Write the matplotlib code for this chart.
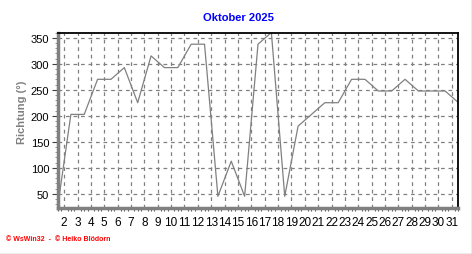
import matplotlib
matplotlib.use("Agg")
import matplotlib.pyplot as plt
from matplotlib.ticker import MultipleLocator, FixedLocator
from matplotlib.lines import Line2D

# daily wind direction, October 2025
days = list(range(1, 32))
richtung = [22.5, 202.5, 202.5, 270, 270, 292.5, 225, 315, 292.5, 292.5,
            337.5, 337.5, 45, 112.5, 45, 337.5, 360, 45, 180, 202.5,
            225, 225, 270, 270, 247.5, 247.5, 270, 247.5, 247.5, 247.5, 225]
tick_days = list(range(2, 32))
y_ticks = [50, 100, 150, 200, 250, 300, 350]

plt.rcParams['font.family'] = ['Liberation Sans', 'DejaVu Sans']

fig = plt.figure(figsize=(4.72, 2.55), dpi=100)
ax = fig.add_axes([57.5 / 472, 46 / 255, 401 / 472, 175.5 / 255])

# points sit at noon of each day
x = [d + 0.5 for d in days]
ax.plot(x, richtung, color='#808080', lw=0.9)

ax.set_xlim(1.5, 31.5)
ax.set_ylim(22.5, 360)

ax.xaxis.set_major_locator(FixedLocator(tick_days))
ax.set_xticklabels([str(d) for d in tick_days])
ax.xaxis.set_minor_locator(MultipleLocator(0.25))
ax.yaxis.set_major_locator(FixedLocator(y_ticks))
ax.yaxis.set_minor_locator(MultipleLocator(10))

ax.grid(True, which='major', color='#808080', ls=(0, (3, 3)), lw=0.9)
ax.tick_params(axis='x', which='major', length=0, pad=6, labelsize=8.5)
ax.tick_params(axis='x', which='minor', length=2, color='#606060', width=0.8)
ax.tick_params(axis='y', which='major', length=4, color='#404040', width=0.8, pad=2, labelsize=8)
ax.tick_params(axis='y', which='minor', length=2, color='#808080', width=0.6)

for s in ['left', 'bottom']:
    ax.spines[s].set_color('#808080')
    ax.spines[s].set_linewidth(2.5)
for s in ['top', 'right']:
    ax.spines[s].set_color('black')
    ax.spines[s].set_linewidth(1.3)

fig.text(22 / 472, 1 - 112 / 255, 'Richtung (°)', rotation=90, color='#808080',
         fontsize=8, fontweight='bold', ha='center', va='center')

fig.text(238 / 472, 1 - 18 / 255, 'Oktober 2025', color='#0000FF',
         fontsize=8, fontweight='bold', ha='center', va='center')

fig.text(6 / 472, 1 - 240 / 255, '© WsWin32  -  © Heiko Blödorn', color='#FF0000',
         fontsize=5, fontweight='bold', ha='left', va='center')

# window frame on right and bottom
fig.add_artist(Line2D([0, 1], [0.5 / 255, 0.5 / 255], color='#a0a0a0', lw=1, transform=fig.transFigure))
fig.add_artist(Line2D([471.5 / 472, 471.5 / 472], [0, 1], color='#a0a0a0', lw=1, transform=fig.transFigure))

fig.savefig('out.png', dpi=100)
